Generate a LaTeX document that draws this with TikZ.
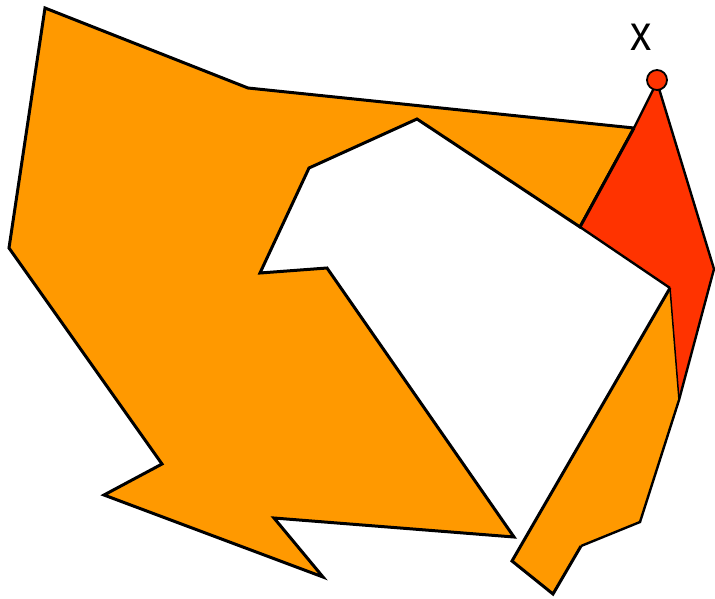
\documentclass[tikz,border=0pt]{standalone}
\usepackage{fontspec}
\setmainfont{Liberation Sans}
\definecolor{orangefill}{HTML}{FF9900}
\definecolor{redfill}{HTML}{FF3300}
\begin{document}
\begin{tikzpicture}[x=1pt,y=-1pt,
  polyedge/.style={draw=black,line width=3pt,line join=miter},
  thinedge/.style={draw=black,line width=1.5pt}]
\useasboundingbox (0,0) rectangle (715,598);
% main orange polygon
\path[polyedge,fill=orangefill] (45,8) -- (248,88) -- (634,128) -- (580,227) -- (417,119)
  -- (309,168) -- (260,273) -- (327,268) -- (514,537) -- (274,518) -- (323,577)
  -- (104,495) -- (162,464) -- (9,248) -- cycle;
% red polygon
\path[fill=redfill] (657,82) -- (714,269) -- (679,400) -- (670,288) -- (580,227) -- (634,128) -- cycle;
\draw[line width=2.4pt] (634,128) -- (657,82) -- (714,269) -- (679,400);
\draw[line width=3pt] (634,128) -- (580,227);
\draw[line width=2.4pt] (580,227) -- (670,288);
% orange strip
\path[fill=orangefill] (670,288) -- (679,400) -- (640,522) -- (581,546) -- (553,594) -- (512,561) -- cycle;
\draw[thinedge] (670,288) -- (679,400);
\draw[line width=2.4pt] (679,400) -- (640,522) -- (581,546);
\draw[line width=3pt] (581,546) -- (553,594) -- (512,561) -- (670,288);
% point and label
\node[circle,draw=black,line width=1.8pt,fill=redfill,minimum size=20pt,inner sep=0pt] (pt) at (657,80) {};
\node[inner sep=0pt,xscale=0.85] (xl) at (641,37) {\fontsize{50}{50}\selectfont x};
\end{tikzpicture}
\end{document}
